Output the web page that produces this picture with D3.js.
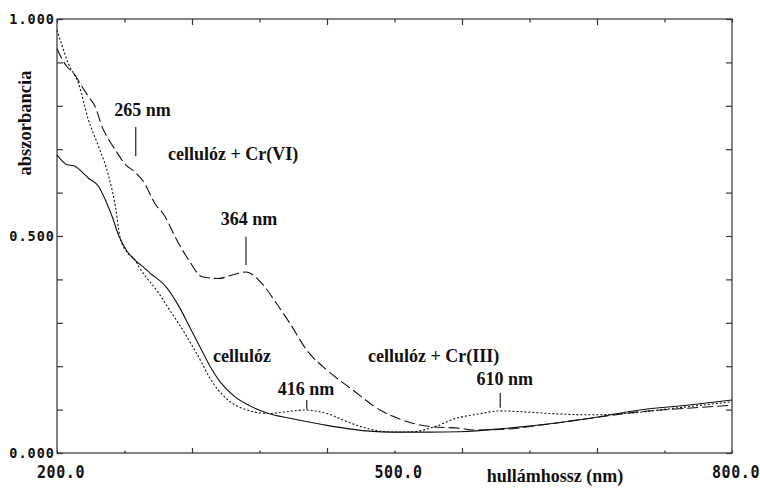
<!DOCTYPE html>
<html>
<head>
<meta charset="utf-8">
<script src="https://cdn.jsdelivr.net/npm/d3@7"></script>
<style>
  html, body { margin: 0; padding: 0; background: #fff; }
  svg { display: block; }
</style>
</head>
<body>
<svg id="chart" width="760" height="493"></svg>
<script>
// ---- data ----
const wavelengthCellulose = [200,205,209,215,222,228,237,243,249,255,262,269,276,283,297,309,318,327,336,345,358,372,388,407,437,475,500,530,558,600,640,674,718,760,800];
const absCellulose =        [0.687,0.672,0.664,0.662,0.648,0.633,0.614,0.583,0.545,0.500,0.466,0.445,0.430,0.414,0.383,0.335,0.290,0.245,0.200,0.164,0.130,0.108,0.091,0.080,0.065,0.051,0.048,0.048,0.049,0.057,0.068,0.080,0.099,0.110,0.122];

const wavelengthCrVI = [200,205,209,216,222,228,234,240,246,252,260,269,277,287,296,305,317,329,343,358,368,382,395,407,422,440,463,487,505,517,535,558,570,600,629,674,718,760,800];
const absCrVI =        [0.932,0.905,0.890,0.871,0.845,0.821,0.798,0.752,0.722,0.698,0.667,0.648,0.625,0.575,0.545,0.498,0.445,0.406,0.402,0.412,0.417,0.391,0.345,0.299,0.237,0.191,0.145,0.099,0.078,0.068,0.060,0.057,0.053,0.055,0.064,0.080,0.095,0.103,0.110];

const wavelengthCrIII = [200,205,210,219,228,237,246,252,256,263,268,275,290,300,309,324,339,354,369,388,404,420,440,458,475,499,517,535,555,575,594,614,638,674,706,748,800];
const absCrIII =        [0.975,0.935,0.898,0.852,0.767,0.706,0.637,0.567,0.498,0.460,0.449,0.420,0.370,0.330,0.295,0.230,0.160,0.118,0.099,0.091,0.095,0.099,0.091,0.072,0.057,0.048,0.049,0.060,0.080,0.090,0.097,0.095,0.091,0.088,0.091,0.103,0.118];

const xTickValues = [200,260,320,380,440,500,560,620,680,740,800];
const xTickLabels = {200:"200.0", 500:"500.0", 800:"800.0"};
const xMajorTicks = [320,440,560,680];
const yTickValues = [0,0.1,0.2,0.3,0.4,0.5,0.6,0.7,0.8,0.9,1.0];
const yTickLabels = {0:"0.000", 0.5:"0.500", 1:"1.000"};

const seriesNames = ["cellulóz", "cellulóz + Cr(VI)", "cellulóz + Cr(III)"];
// label anchors in data units (nm, absorbance)
const seriesLabelNm = [338.7, 298.7, 476.4];
const seriesLabelAbs = [0.21, 0.675, 0.21];

const peakLabels = ["265 nm", "364 nm", "416 nm", "610 nm"];
const peakTextNm = [276, 370.7, 421.3, 598];
const peakTextAbs = [0.776, 0.525, 0.134, 0.157];
const peakLineNm = [270, 368, 422, 594];
const peakLineTop = [0.751, 0.498, 0.122, 0.138];
const peakLineBottom = [0.684, 0.433, 0.101, 0.104];

const xTitle = "hullámhossz (nm)";
const yTitle = "abszorbancia";

// ---- layout ----
const svg = d3.select("#chart");
const plotLeft = 57, plotTop = 19, plotRight = 732, plotBottom = 453;
const x = d3.scaleLinear().domain([200, 800]).range([plotLeft, plotRight]);
const y = d3.scaleLinear().domain([0, 1]).range([plotBottom, plotTop]);

const axisColor = "#333";
const monoFont = "'DejaVu Sans Mono', monospace";
const serifFont = "'Liberation Serif', 'Times New Roman', serif";

// frame
svg.append("rect")
  .attr("x", plotLeft).attr("y", plotTop)
  .attr("width", plotRight - plotLeft).attr("height", plotBottom - plotTop)
  .attr("fill", "none").attr("stroke", axisColor).attr("stroke-width", 1.2);

// axes (ticks inward)
const gB = svg.append("g").attr("transform", `translate(0,${plotBottom})`)
  .call(d3.axisBottom(x).tickValues(xTickValues).tickFormat("").tickSizeOuter(0));
gB.selectAll(".tick line").attr("y2", d => xMajorTicks.includes(d) ? -5 : -2.5);
const gT = svg.append("g").attr("transform", `translate(0,${plotTop})`)
  .call(d3.axisTop(x).tickValues(xTickValues).tickFormat("").tickSizeOuter(0));
gT.selectAll(".tick line").attr("y2", d => xMajorTicks.includes(d) ? 6 : 3.5);
const gL = svg.append("g").attr("transform", `translate(${plotLeft},0)`)
  .call(d3.axisLeft(y).tickValues(yTickValues).tickFormat("").tickSizeOuter(0).tickSizeInner(-6));
const gR = svg.append("g").attr("transform", `translate(${plotRight},0)`)
  .call(d3.axisRight(y).tickValues(yTickValues).tickFormat("").tickSizeOuter(0).tickSizeInner(-6));
[gB, gT, gL, gR].forEach(g => {
  g.select(".domain").remove();
  g.selectAll(".tick line").attr("stroke", axisColor).attr("stroke-width", 1.2);
});

// tick labels
svg.append("g").selectAll("text")
  .data(xTickValues.filter(v => xTickLabels[v]))
  .join("text")
  .attr("transform", d => `translate(${x(d) + 4},478) scale(1,1.15)`)
  .attr("text-anchor", "middle")
  .attr("font-family", monoFont).attr("font-weight", "bold")
  .attr("font-size", 15).attr("letter-spacing", 0.6)
  .attr("fill", "#111")
  .text(d => xTickLabels[d]);

svg.append("g").selectAll("text")
  .data(yTickValues.filter(v => yTickLabels[v] !== undefined))
  .join("text")
  .attr("x", 55).attr("y", d => y(d) + 5)
  .attr("text-anchor", "end")
  .attr("font-family", monoFont).attr("font-weight", "bold")
  .attr("font-size", 13.5).attr("letter-spacing", 1)
  .attr("fill", "#111")
  .text(d => yTickLabels[d]);

// axis titles
svg.append("text")
  .attr("x", 555).attr("y", 482)
  .attr("text-anchor", "middle")
  .attr("font-family", serifFont).attr("font-weight", "bold").attr("font-size", 18)
  .attr("fill", "#111")
  .text(xTitle);
svg.append("text")
  .attr("transform", "translate(31,123) rotate(-90)")
  .attr("text-anchor", "middle")
  .attr("font-family", serifFont).attr("font-weight", "bold").attr("font-size", 18.5)
  .attr("fill", "#111")
  .text(yTitle);

// curves
const line = d3.line().x(d => x(d[0])).y(d => y(d[1])).curve(d3.curveMonotoneX);
const series = [
  { xs: wavelengthCellulose, ys: absCellulose, dash: null },
  { xs: wavelengthCrVI, ys: absCrVI, dash: "11,4" },
  { xs: wavelengthCrIII, ys: absCrIII, dash: "2,2" }
];
svg.append("g").selectAll("path")
  .data(series)
  .join("path")
  .attr("d", s => line(d3.zip(s.xs, s.ys)))
  .attr("fill", "none")
  .attr("stroke", "#111")
  .attr("stroke-width", 1.1)
  .attr("stroke-dasharray", s => s.dash);

// series labels
svg.append("g").selectAll("text")
  .data(seriesNames)
  .join("text")
  .attr("x", (d, i) => x(seriesLabelNm[i]))
  .attr("y", (d, i) => y(seriesLabelAbs[i]))
  .attr("font-family", serifFont).attr("font-weight", "bold").attr("font-size", 18)
  .attr("fill", "#111")
  .text(d => d);

// peak labels and markers
svg.append("g").selectAll("text")
  .data(peakLabels)
  .join("text")
  .attr("x", (d, i) => x(peakTextNm[i]))
  .attr("y", (d, i) => y(peakTextAbs[i]))
  .attr("text-anchor", "middle")
  .attr("font-family", serifFont).attr("font-weight", "bold").attr("font-size", 18)
  .attr("fill", "#111")
  .text(d => d);
svg.append("g").selectAll("line")
  .data(peakLabels)
  .join("line")
  .attr("x1", (d, i) => x(peakLineNm[i])).attr("x2", (d, i) => x(peakLineNm[i]))
  .attr("y1", (d, i) => y(peakLineTop[i])).attr("y2", (d, i) => y(peakLineBottom[i]))
  .attr("stroke", "#222").attr("stroke-width", 1.2);
</script>
</body>
</html>
